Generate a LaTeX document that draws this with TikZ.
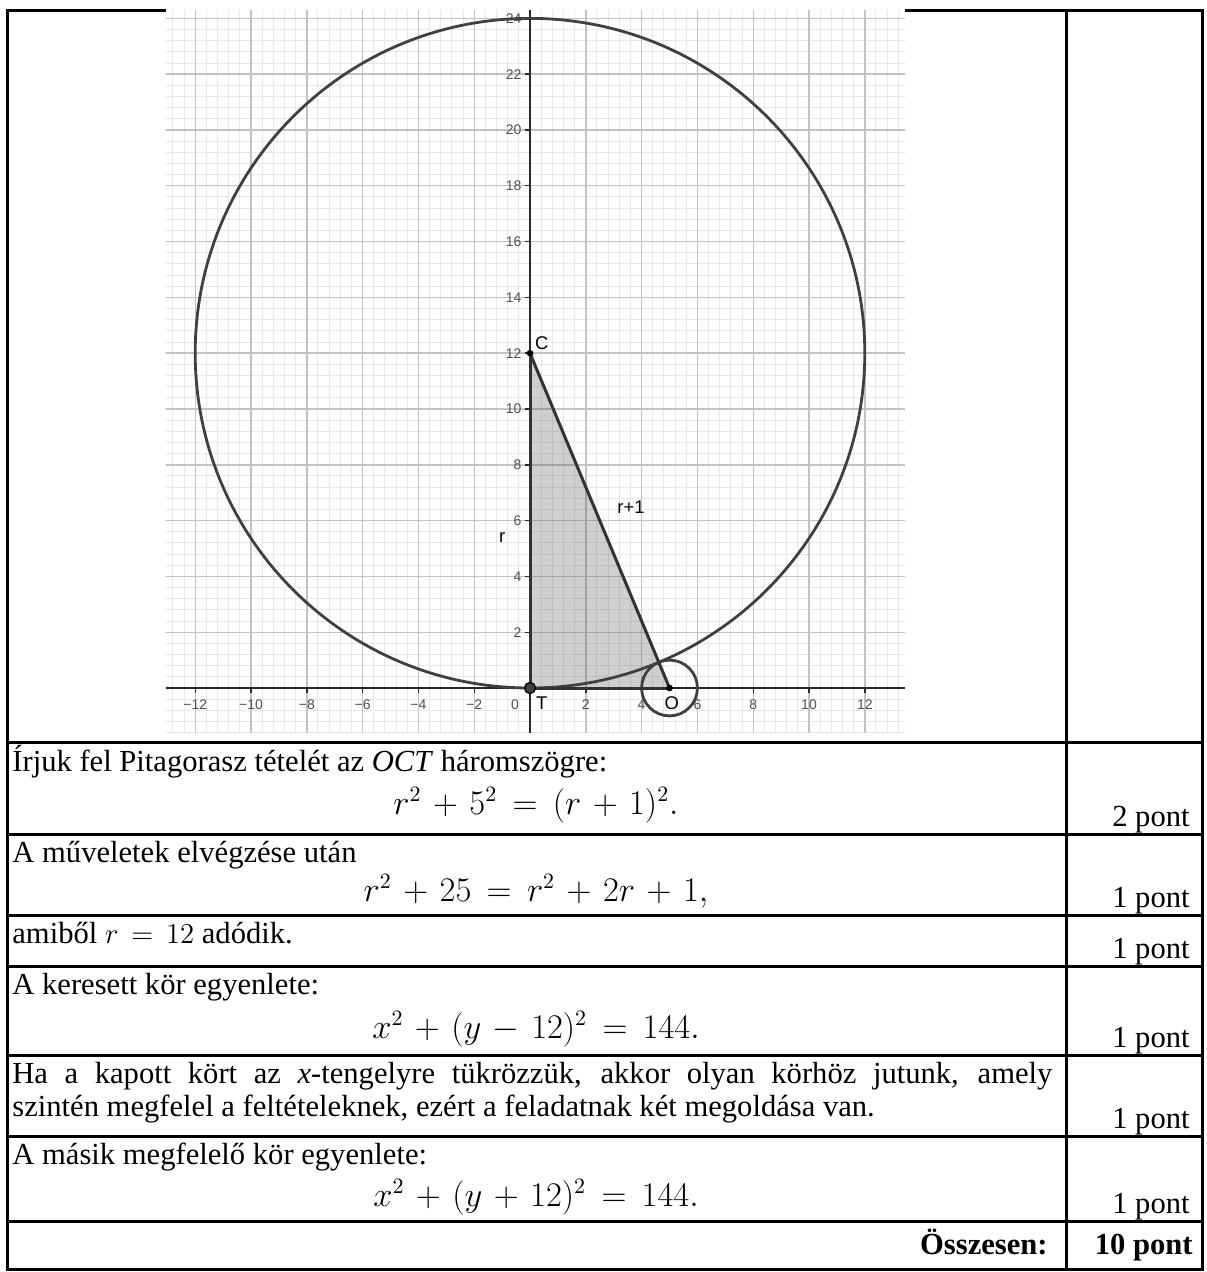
\documentclass[tikz,border=0pt]{standalone}
\usepackage{fontspec}
\setmainfont{Liberation Serif}
\newfontfamily\ggbfont{Liberation Sans}
\usepackage{amsmath}
\usetikzlibrary{positioning}

\definecolor{ggbminor}{RGB}{232,232,232}
\definecolor{ggbmajor}{RGB}{195,195,195}
\definecolor{ggbaxis}{RGB}{40,40,40}
\definecolor{ggblabel}{RGB}{80,80,80}
\definecolor{ggbdark}{RGB}{64,64,64}
\definecolor{ggbseg}{RGB}{50,50,50}

\newcommand{\eqsp}{\medmuskip=6mu\relax\thickmuskip=8mu\relax}

\begin{document}
\begin{tikzpicture}[
    x=0.5pt, y=-0.5pt,
    rule/.style={line width=1.5pt},
    txt/.style={anchor=base west, inner sep=0pt, font=\fontsize{15.3}{16.5}\selectfont},
    pts/.style={anchor=base east, inner sep=0pt, font=\fontsize{15.3}{16.5}\selectfont},
    formula/.style={anchor=base, inner sep=0pt, font=\fontsize{16}{17}\selectfont},
    ticklabel/.style={font=\ggbfont\fontsize{7}{8}\selectfont, text=ggblabel, inner sep=0pt},
    ptlabel/.style={font=\ggbfont\fontsize{9.2}{10}\selectfont, inner sep=0pt},
    curve/.style={draw=ggbdark, line width=1.4pt},
    side/.style={draw=ggbseg, line width=1.5pt, line cap=round},
    axis/.style={draw=ggbaxis, line width=0.7pt}
]
    \useasboundingbox (0,0) rectangle (1206,1272);

    % table frame
    \draw[rule] (7,11) rectangle (1202,1269);
    \draw[rule] (1066,11) -- (1066,1269);
    \foreach \y in {742,834,915,966,1055,1136,1221}
        \draw[rule] (7,\y) -- (1202,\y);

    % the GeoGebra figure
    \fill[white] (166,9.5) rectangle (905,733);
    \begin{scope}[shift={(530,688)}, x=13.95pt, y=13.95pt]
        \clip (-13.05,-1.61) rectangle (13.44,24.3);
        \draw[ggbminor, line width=0.5pt, step=0.4] (-14,-2) grid (14,25);
        \draw[ggbmajor, line width=0.7pt, step=2] (-14,-2) grid (14,25);

        \coordinate (T) at (0,0);
        \coordinate (C) at (0,12);
        \coordinate (O) at (5,0);

        \fill[ggbdark, fill opacity=0.25] (T) -- (C) -- (O) -- cycle;

        \draw[axis] (-14,0) -- (14,0);
        \draw[axis] (0,-2) -- (0,25);
        \foreach \k/\t in {-12/−12,-10/−10,-8/−8,-6/−6,-4/−4,-2/−2,2/2,4/4,6/6,8/8,10/10,12/12} {
            \draw[axis] (\k,0) -- (\k,-0.18);
            \node[ticklabel] (xl\k) at (\k,-0.61) {\t};
        }
        \foreach \k in {2,4,...,24} {
            \draw[axis] (0,\k) -- (-0.18,\k);
            \node[ticklabel, anchor=east] (yl\k) at (-0.29,\k) {\k};
        }
        \node[ticklabel] (xl0) at (-0.54,-0.61) {0};

        \draw[curve] (C) circle[radius=12];
        \draw[curve] (O) circle[radius=1];

        \draw[side] (T) -- (C);
        \draw[side] (C) -- (O);
        \draw[side] (O) -- (T);

        \fill[ggbdark, draw=black, line width=0.6pt] (T) circle[radius=0.2];
        \fill[black] (C) circle[radius=0.12];
        \fill[black] (O) circle[radius=0.12];

        \node[ptlabel] (labC) at (0.42,12.37) {C};
        \node[ptlabel] (labT) at (0.42,-0.54) {T};
        \node[ptlabel] (labO) at (5.08,-0.54) {O};
        \node[ptlabel] (labr) at (-1.0,5.38) {r};
        \node[ptlabel] (labr1) at (3.62,6.49) {r+1};
    \end{scope}

    % solution rows
    \node[txt] (t1) at (12,771) {Írjuk fel Pitagorasz tételét az \textit{OCT} háromszögre:};
    \node[formula] (f1) at (536,814) {$\eqsp r^2+5^2=(r+1)^2.$};
    \node[pts] (p1) at (1190,826) {2 pont};

    \node[txt] (t2) at (12,862) {A műveletek elvégzése után};
    \node[formula] (f2) at (536,901) {$\eqsp r^2+25=r^2+2r+1,$};
    \node[pts] (p2) at (1190,907) {1 pont};

    \node[txt] (t3) at (12,943) {amiből $\eqsp r=12$ adódik.};
    \node[pts] (p3) at (1190,958) {1 pont};

    \node[txt] (t4) at (12,994) {A keresett kör egyenlete:};
    \node[formula] (f4) at (536,1038) {$\eqsp x^2+(y-12)^2=144.$};
    \node[pts] (p4) at (1190,1047) {1 pont};

    \node[txt, text width=520pt, align=justify] (t5) at (12,1083) {Ha a kapott kört az \textit{x}-tengelyre tükrözzük, akkor olyan körhöz jutunk, amely\linebreak szintén megfelel a feltételeknek, ezért a feladatnak két megoldása van.};
    \node[pts] (p5) at (1190,1128) {1 pont};

    \node[txt] (t6) at (12,1164) {A másik megfelelő kör egyenlete:};
    \node[formula] (f6) at (536,1206) {$\eqsp x^2+(y+12)^2=144.$};
    \node[pts] (p6) at (1190,1213) {1 pont};

    \node[pts, font=\fontsize{15.3}{16.5}\selectfont\bfseries] (sum) at (1048,1254) {Összesen:};
    \node[pts, font=\fontsize{15.3}{16.5}\selectfont\bfseries] (total) at (1193,1254) {10 pont};
\end{tikzpicture}
\end{document}
